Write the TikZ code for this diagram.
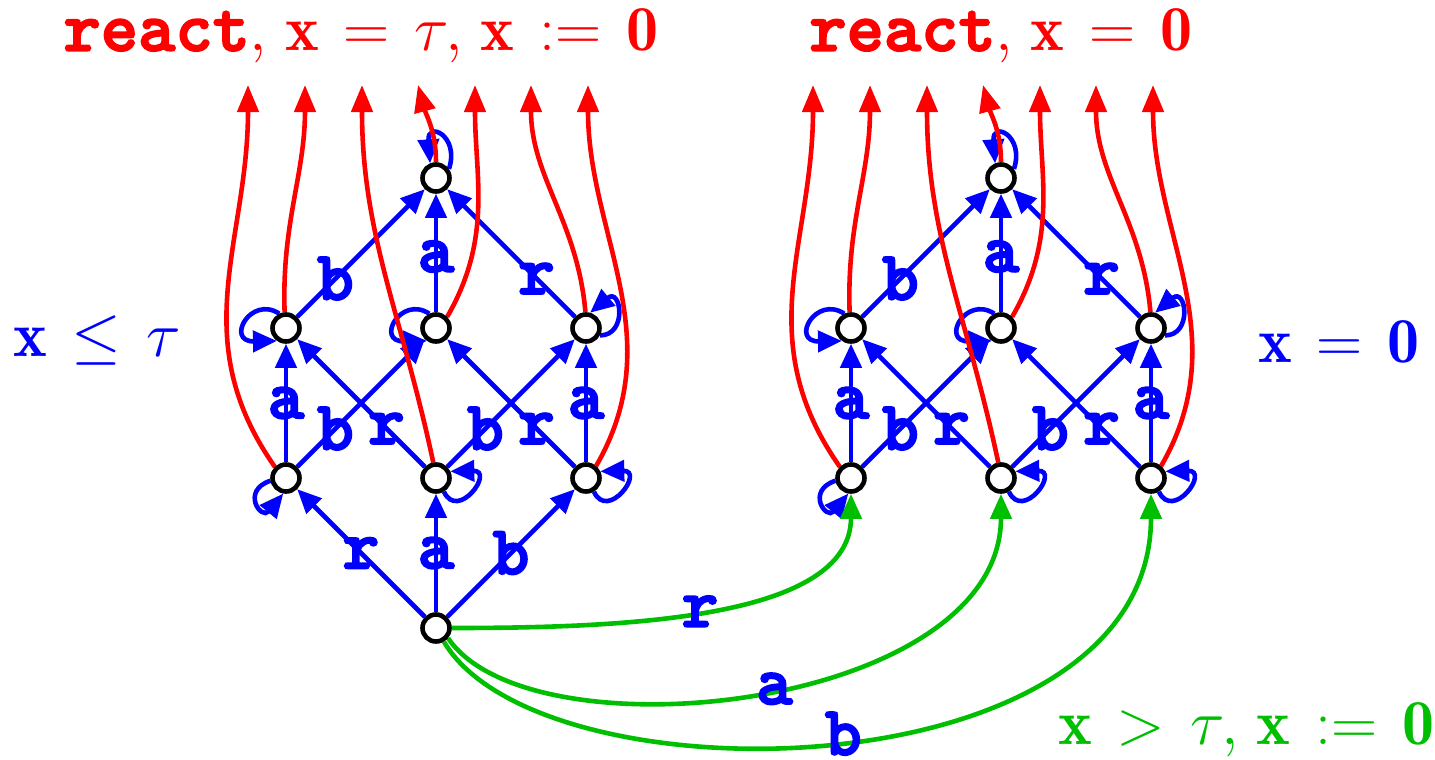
\RequirePackage{fix-cm}
\documentclass[tikz,border=0pt]{standalone}
\usepackage{fontspec}
\usetikzlibrary{arrows.meta}
\pgfdeclarelayer{bg}
\pgfsetlayers{bg,main}
\definecolor{gr}{RGB}{0,190,0}
\font\labfnt="[lmmonolt10-bold]:embolden=2.5" at 70pt
\font\reactfnt="[lmmonolt10-bold]:embolden=2.5" at 71pt
\newcommand\tw[1]{{\reactfnt #1}}
\newcommand\bigfont{\fontsize{64}{64}\selectfont\thickmuskip=7mu\thinmuskip=5mu}
\tikzset{
  st/.style={circle, draw=black, line width=4.6pt, fill=white, minimum size=27pt, inner sep=0pt},
  bl/.style={blue, line width=4.6pt, -{Triangle[length=24pt,width=21pt]}},
  rd/.style={red, line width=4.6pt, -{Triangle[length=27pt,width=21pt]}},
  gn/.style={gr, line width=4.6pt, -{Triangle[length=25pt,width=21pt]}},
  lab/.style={text=blue, font=\labfnt, inner sep=0pt},
  txt/.style={font=\bigfont, inner sep=0pt},
}
\newcommand\drawlattice[2]{%
\begin{scope}[shift={(#2,0)}, name prefix=#1]
  \node[st] (T)  at (436,178) {};
  \node[st] (ML) at (286,328) {};
  \node[st] (MM) at (436,328) {};
  \node[st] (MR) at (586,328) {};
  \node[st] (BL) at (286,478) {};
  \node[st] (BM) at (436,478) {};
  \node[st] (BR) at (586,478) {};
  \foreach \i/\x in {1/248,2/305,3/362,4/418,5/475,6/531,7/588}{\coordinate (t\i) at (\x,85);}
  \begin{pgfonlayer}{bg}
    \draw[bl] (ML) -- node[lab,pos=.3]{b} (T);
    \draw[bl] (MM) -- node[lab,pos=.47]{a} (T);
    \draw[bl] (MR) -- node[lab,pos=.3]{r} (T);
    \draw[bl] (BL) -- node[lab,pos=.5]{a} (ML);
    \draw[bl] (BL) -- node[lab,pos=.3]{b} (MM);
    \draw[bl] (BM) -- node[lab,pos=.3]{r} (ML);
    \draw[bl] (BM) -- node[lab,pos=.3]{b} (MR);
    \draw[bl] (BR) -- node[lab,pos=.3]{r} (MM);
    \draw[bl] (BR) -- node[lab,pos=.5]{a} (MR);
    \draw[bl] (T.35)   .. controls +(11,-33) and +(-3,-43) .. (T.112);
    \draw[bl] (ML.115) .. controls +(-29,-19) and +(-52,1) .. (ML.235);
    \draw[bl] (MM.115) .. controls +(-29,-19) and +(-52,1) .. (MM.235);
    \draw[bl] (MR.-28) .. controls +(28,0) and +(31,-26) .. (MR.75);
    \draw[bl] (BL.190) .. controls +(-30,10) and +(-22,27) .. (BL.-100);
    \draw[bl] (BM.-60) .. controls +(14,30) and +(45,-1) .. (BM.25);
    \draw[bl] (BR.-60) .. controls +(14,30) and +(45,-1) .. (BR.25);
    \draw[rd] (BL.135) to[out=125,in=-90,looseness=1.05] (t1);
    \draw[rd] (ML.95) to[out=92,in=-90] (t2);
    \draw[rd] (BM.100) to[out=102,in=-90] (t3);
    \draw[rd] (T.90) to[out=90,in=-75] (t4);
    \draw[rd] (MM.45) to[out=60,in=-90] (t5);
    \draw[rd] (MR.92) to[out=95,in=-90] (t6);
    \draw[rd] (BR.50) to[out=60,in=-90] (t7);
  \end{pgfonlayer}
\end{scope}}
\begin{document}
\begin{tikzpicture}[x=1pt,y=-1pt]
\useasboundingbox (0,0) rectangle (1435,760);
\drawlattice{L}{0}
\drawlattice{R}{565}
\node[st] (root) at (436,628) {};
\begin{pgfonlayer}{bg}
  \draw[bl] (root) -- node[lab,pos=.5]{r} (LBL);
  \draw[bl] (root) -- node[lab,pos=.5]{a} (LBM);
  \draw[bl] (root) -- node[lab,pos=.5]{b} (LBR);
  \draw[gn] (root.east) .. controls (620,628) and (851,620) .. (RBL.south) node[lab,pos=.47]{r};
  \draw[gn] (root.-40) .. controls (530,760) and (1001,710) .. (RBM.south) node[lab,pos=.525]{a};
  \draw[gn] (root.-60) .. controls (540,805) and (1151,795) .. (RBR.south) node[lab,pos=.51,yshift=7pt]{b};
\end{pgfonlayer}
\node[txt, text=red] (topL) at (361,36) {\tw{react}$,\mathbf{x}=\tau,\mathbf{x}:=\mathbf{0}$};
\node[txt, text=red] (topR) at (1001,36) {\tw{react}$,\mathbf{x}=\mathbf{0}$};
\node[txt, text=blue] (condL) at (97,340) {$\mathbf{x}\leq\tau$};
\node[txt, text=blue] (condR) at (1339,342) {$\mathbf{x}=\mathbf{0}$};
\node[txt, text=gr] (reset) at (1246,730) {$\mathbf{x}>\tau,\mathbf{x}:=\mathbf{0}$};
\end{tikzpicture}
\end{document}
